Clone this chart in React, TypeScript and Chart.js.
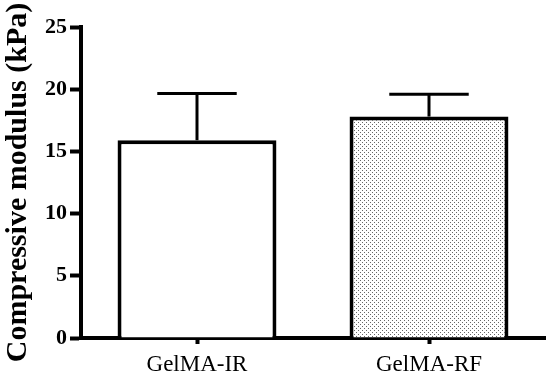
import React, { useEffect, useRef } from "react";
import { Chart, registerables } from "chart.js";

Chart.register(...registerables);

const categories = ["GelMA-IR", "GelMA-RF"];
const means = [15.9, 17.8];
const errors = [3.75, 1.8];
const yTicks = [0, 5, 10, 15, 20, 25];
const yTitle = "Compressive modulus (kPa)";

const SERIF = "'Liberation Serif', 'Times New Roman', serif";

function makeDotPattern(): CanvasPattern | string {
  const c = document.createElement("canvas");
  c.width = 4;
  c.height = 4;
  const g = c.getContext("2d");
  if (!g) return "#e6e6e6";
  g.fillStyle = "#ffffff";
  g.fillRect(0, 0, 4, 4);
  g.fillStyle = "#666666";
  g.fillRect(0, 0, 1, 1);
  g.fillRect(2, 2, 1, 1);
  const p = g.createPattern(c, "repeat");
  return p || "#e6e6e6";
}

const errorBarPlugin = {
  id: "errorBars",
  afterDatasetsDraw(chart: any) {
    const ctx = chart.ctx;
    const meta = chart.getDatasetMeta(0);
    const yScale = chart.scales.y;
    ctx.save();
    ctx.strokeStyle = "#000";
    ctx.lineCap = "butt";
    meta.data.forEach((bar: any, i: number) => {
      const x = bar.x;
      const yTop = bar.y;
      const yErr = yScale.getPixelForValue(means[i] + errors[i]);
      const half = bar.width / 4;
      ctx.lineWidth = 3;
      ctx.beginPath();
      ctx.moveTo(x, yTop);
      ctx.lineTo(x, yErr);
      ctx.stroke();
      ctx.beginPath();
      ctx.moveTo(x - half, yErr);
      ctx.lineTo(x + half, yErr);
      ctx.stroke();
    });
    ctx.restore();
  },
};

export default function App() {
  const ref = useRef<HTMLCanvasElement | null>(null);

  useEffect(() => {
    if (!ref.current) return;
    const pattern = makeDotPattern();
    const chart = new Chart(ref.current, {
      type: "bar",
      data: {
        labels: categories,
        datasets: [
          {
            data: means,
            backgroundColor: ["#ffffff", pattern as any],
            borderColor: "#000000",
            borderWidth: 4,
            barPercentage: 0.685,
            categoryPercentage: 1,
          },
        ],
      },
      options: {
        responsive: false,
        animation: false,
        layout: { padding: { top: 27, right: 5, bottom: 0, left: 0 } },
        plugins: {
          legend: { display: false },
          tooltip: { enabled: false },
        },
        scales: {
          x: {
            offset: true,
            grid: {
              display: true,
              offset: false,
              drawOnChartArea: false,
              drawTicks: true,
              tickLength: 6,
              tickWidth: 4,
              tickColor: "#000",
            },
            border: { display: true, width: 4, color: "#000" },
            ticks: {
              color: "#000",
              padding: 7,
              font: { family: SERIF, size: 23, weight: "normal" },
            },
            afterFit(scale: any) {
              scale.height = 41;
            },
          },
          y: {
            min: 0,
            max: 25,
            afterBuildTicks(scale: any) {
              scale.ticks = yTicks.map((v) => ({ value: v }));
            },
            grid: {
              display: true,
              drawOnChartArea: false,
              drawTicks: true,
              tickLength: 11,
              tickWidth: 4,
              tickColor: "#000",
            },
            border: { display: true, width: 4, color: "#000" },
            ticks: {
              color: "#000",
              padding: 3,
              font: { family: SERIF, size: 22, weight: "bold" },
            },
            title: {
              display: true,
              text: yTitle,
              color: "#000",
              padding: { top: 0, bottom: 0 },
              font: { family: SERIF, size: 30, weight: "bold" },
            },
            afterFit(scale: any) {
              scale.width = 81;
            },
          },
        },
      },
      plugins: [errorBarPlugin],
    });
    return () => chart.destroy();
  }, []);

  return (
    <div style={{ position: "fixed", left: 0, top: 0, width: 550, height: 379, background: "#fff" }}>
      <canvas ref={ref} width={550} height={379} style={{ width: 550, height: 379, display: "block" }} />
    </div>
  );
}
